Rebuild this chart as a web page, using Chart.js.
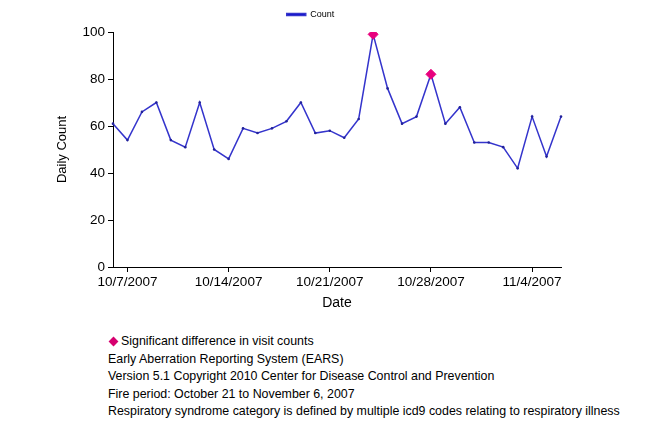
<!DOCTYPE html>
<html>
<head>
<meta charset="utf-8">
<script src="https://cdn.jsdelivr.net/npm/chart.js@4/dist/chart.umd.min.js"></script>
<style>
  html, body { margin: 0; padding: 0; background: #fff; }
  #wrap { position: absolute; left: 0; top: 0; width: 647px; height: 315px; }
  #notes { position: absolute; left: 108px; top: 333px; font-family: 'Liberation Sans', Arial, sans-serif; font-size: 12.4px; color: #000; line-height: 17.6px; white-space: nowrap; }
  .dia { display: inline-block; width: 7px; height: 7px; background: #d6006f; transform: rotate(45deg); margin: 0 4px 0 2px; vertical-align: 0px; }
</style>
</head>
<body>
<div id="wrap"><canvas id="c"></canvas></div>
<div id="notes">
  <div><span class="dia"></span>Significant difference in visit counts</div>
  <div>Early Aberration Reporting System (EARS)</div>
  <div>Version 5.1 Copyright 2010 Center for Disease Control and Prevention</div>
  <div>Fire period: October 21 to November 6, 2007</div>
  <div>Respiratory syndrome category is defined by multiple icd9 codes relating to respiratory illness</div>
</div>
<script>
const dates = ['10/6/2007','10/7/2007','10/8/2007','10/9/2007','10/10/2007','10/11/2007','10/12/2007','10/13/2007',
  '10/14/2007','10/15/2007','10/16/2007','10/17/2007','10/18/2007','10/19/2007','10/20/2007','10/21/2007',
  '10/22/2007','10/23/2007','10/24/2007','10/25/2007','10/26/2007','10/27/2007','10/28/2007','10/29/2007',
  '10/30/2007','10/31/2007','11/1/2007','11/2/2007','11/3/2007','11/4/2007','11/5/2007','11/6/2007'];
const counts = [61,54,66,70,54,51,70,50,46,59,57,59,62,70,57,58,55,63,99,76,61,64,82,61,68,53,53,51,42,64,47,64];
const significantDates = ['10/24/2007','10/28/2007'];
const tickLabels = ['10/7/2007','10/14/2007','10/21/2007','10/28/2007','11/4/2007'];
const yTicks = [0,20,40,60,80,100];

const signif = dates.map((d,i) => significantDates.includes(d) ? counts[i] : null);
const FONT = "'Liberation Sans', Arial, sans-serif";

const legendGap = {
  id: 'legendGap',
  beforeInit(chart) {
    const lg = chart.legend;
    if (!lg) return;
    const orig = lg.fit.bind(lg);
    lg.fit = function () { orig(); this.height += 3; };
  }
};

new Chart(document.getElementById('c'), {
  type: 'line',
  data: {
    labels: dates,
    datasets: [
      { label: 'Count', data: counts, borderColor: '#3434cc', backgroundColor: '#0000cc',
        borderWidth: 1.5, pointRadius: 1.3, pointBackgroundColor: '#22229a', pointBorderColor: '#22229a',
        pointBorderWidth: 0, tension: 0, order: 2 },
      { label: 'Significant', data: signif, showLine: false, pointStyle: 'rectRot', pointRadius: 5,
        pointBackgroundColor: '#e8007d', pointBorderColor: '#e8007d', order: 1 }
    ]
  },
  plugins: [legendGap],
  options: {
    responsive: true, maintainAspectRatio: false, animation: false,
    layout: { padding: { left: 60, right: 86, top: 4, bottom: 0 } },
    plugins: {
      tooltip: { enabled: false },
      legend: {
        position: 'top',
        labels: { filter: it => it.datasetIndex === 0, boxWidth: 19, boxHeight: 2, padding: 6,
          color: '#000', font: { family: FONT, size: 9 } }
      }
    },
    scales: {
      x: {
        type: 'category', offset: false,
        afterFit: s => { s.height = 48; },
        grid: { drawOnChartArea: false, tickLength: 5,
          color: ctx => tickLabels.includes(dates[ctx.index]) ? '#000' : 'rgba(0,0,0,0)' },
        border: { color: '#000', width: 1 },
        ticks: { autoSkip: false, maxRotation: 0, color: '#000', padding: 2,
          font: { family: FONT, size: 13.5 },
          callback: (v, i) => tickLabels.includes(dates[i]) ? dates[i] : '' },
        title: { display: true, text: 'Date', color: '#000', font: { family: FONT, size: 14 },
          padding: { top: 0, bottom: 3 } }
      },
      y: {
        min: 0, max: 100,
        afterFit: s => { s.width = 53; },
        afterBuildTicks: s => { s.ticks = yTicks.map(v => ({ value: v })); },
        grid: { drawOnChartArea: false, tickLength: 5, color: '#000' },
        border: { color: '#000', width: 1 },
        ticks: { color: '#000', padding: 3, font: { family: FONT, size: 13.5 } },
        title: { display: true, text: 'Daily Count', color: '#000', font: { family: FONT, size: 13 },
          padding: { top: -5, bottom: 0 } }
      }
    }
  }
});
</script>
</body>
</html>
